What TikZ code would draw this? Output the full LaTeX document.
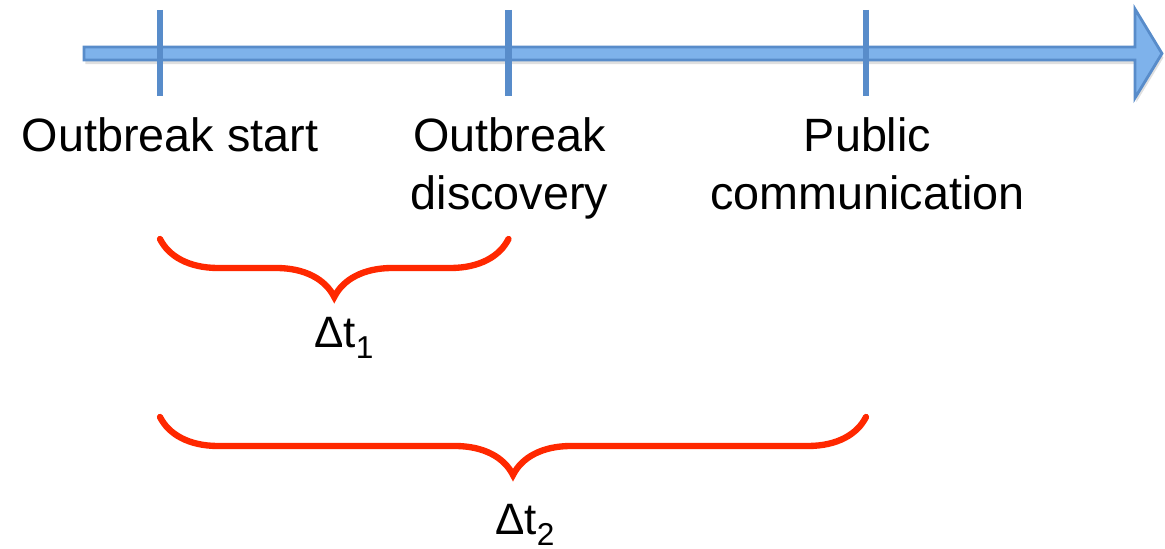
\documentclass[tikz,border=0pt]{standalone}
\usepackage{fontspec}
\setmainfont{Liberation Sans}
\usetikzlibrary{positioning,decorations.pathreplacing,shadows}

\definecolor{axisfill}{RGB}{126,178,235}
\definecolor{axisline}{RGB}{88,140,202}
\definecolor{bracecolor}{RGB}{255,40,0}

\newcommand{\deltasub}[1]{Δt\raisebox{-0.25em}{\fontsize{9}{10}\selectfont #1}}

\begin{document}
\begin{tikzpicture}[
  labeltext/.style={font=\fontsize{13.3}{16.5}\selectfont, align=center, inner sep=0pt, anchor=north},
  deltatext/.style={font=\fontsize{12.5}{15}\selectfont, inner sep=0pt, anchor=north},
  timetick/.style={draw=axisline, line width=1.9pt},
  curlybrace/.style={draw=bracecolor, line width=1.8pt, line cap=round,
    decorate, decoration={brace, mirror, amplitude=0.58cm}}
]
\useasboundingbox (0,0) rectangle (11.65,-5.49);

% Time axis arrow
\draw[axisline, fill=axisfill, line width=0.8pt,
  drop shadow={opacity=0.25, shadow xshift=0.4pt, shadow yshift=-1.2pt}]
  (0.84,-0.47) -- (11.35,-0.47) -- (11.35,-0.09) -- (11.62,-0.535)
  -- (11.35,-0.98) -- (11.35,-0.60) -- (0.84,-0.60) -- cycle;

% Tick marks on the axis
\foreach \name/\x in {start/1.60, discovery/5.085, public/8.66} {
    \coordinate (\name top) at (\x,-0.10);
    \coordinate (\name bot) at (\x,-0.96);
    \draw[timetick] (\name top) -- (\name bot);
}

% Event labels
\node[labeltext] (startlabel) at (1.70,-1.17) {Outbreak start};
\node[labeltext] (discoverylabel) at (5.095,-1.17) {Outbreak\\discovery};
\node[labeltext] (publiclabel) at (8.675,-1.17) {Public\\communication};

% Braces for the delays
\coordinate (b1left) at (1.60,-2.39);
\coordinate (b1right) at (5.085,-2.39);
\draw[curlybrace] (b1left) -- (b1right);

\coordinate (b2left) at (1.60,-4.17);
\coordinate (b2right) at (8.66,-4.17);
\draw[curlybrace] (b2left) -- (b2right);

% Delay labels
\node[deltatext] (delta1) at (3.44,-3.17) {\deltasub{1}};
\node[deltatext] (delta2) at (5.25,-5.04) {\deltasub{2}};

\end{tikzpicture}
\end{document}
